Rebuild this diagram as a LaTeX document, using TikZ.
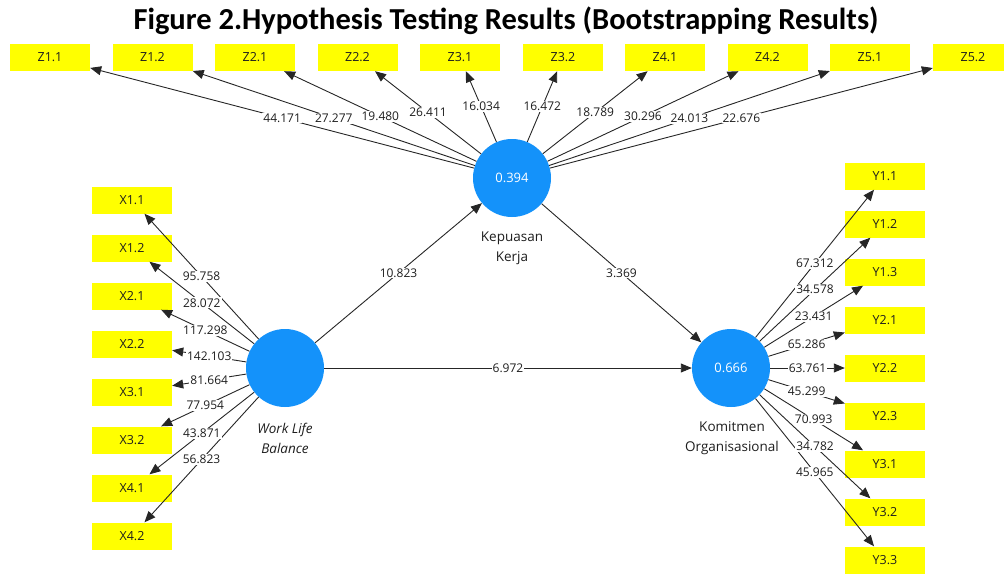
\documentclass[tikz,border=0pt]{standalone}
\usepackage{fontspec}
\setmainfont{Open Sans}
\newfontfamily\titlefont{Carlito}
\usetikzlibrary{arrows.meta}
\definecolor{lvblue}{RGB}{20,146,250}
\definecolor{indyellow}{RGB}{255,255,0}
\definecolor{inktext}{RGB}{30,30,30}
\tikzset{
  latent/.style={circle, fill=lvblue, minimum size=78pt, inner sep=0pt,
    text=white, font=\fontsize{13}{15}\selectfont},
  indicator/.style={rectangle, fill=indyellow, minimum width=80pt,
    minimum height=27pt, inner sep=0pt, text=inktext,
    font=\fontsize{12.5}{14}\selectfont},
  relpath/.style={draw=black!85, line width=0.9pt,
    -{Triangle[length=11pt,width=9pt]}},
  coef/.style={midway, fill=white, inner sep=1pt, text=inktext,
    font=\fontsize{12}{14}\selectfont},
  lvname/.style={align=center, text=inktext,
    font=\fontsize{13.5}{20}\selectfont}
}
\begin{document}
\begin{tikzpicture}[x=1pt,y=-1pt]
\useasboundingbox (0,0) rectangle (1004,574);

% title
\node[anchor=base, inner sep=0pt] (title) at (506,29)
  {\titlefont\bfseries\fontsize{30.5}{34}\selectfont Figure 2.Hypothesis Testing Results (Bootstrapping Results)};

% latent variables
\node[latent] (wlb) at (285,368) {};
\node[latent] (kep) at (512,178) {0.394};
\node[latent] (kom) at (731,368) {0.666};

\node[lvname] (wlbname) at (285,438) {\itshape Work Life\\\itshape Balance};
\node[lvname] (kepname) at (512,248) {Kepuasan\\Kerja};
\node[lvname] (komname) at (732,438) {Komitmen\\Organisasional};

% indicators of Kepuasan Kerja
\foreach \n/\x/\t in {1/50/Z1.1, 2/152.5/Z1.2, 3/255/Z2.1, 4/357.5/Z2.2,
  5/460/Z3.1, 6/563/Z3.2, 7/665/Z4.1, 8/767.5/Z4.2, 9/870/Z5.1, 10/973/Z5.2}
  \node[indicator] (z\n) at (\x,57.5) {\t};

% indicators of Work Life Balance
\foreach \n/\y/\t in {1/200/X1.1, 2/248/X1.2, 3/296/X2.1, 4/344/X2.2,
  5/392/X3.1, 6/440/X3.2, 7/488/X4.1, 8/536/X4.2}
  \node[indicator] (x\n) at (132,\y) {\t};

% indicators of Komitmen Organisasional
\foreach \n/\y/\t in {1/176/Y1.1, 2/224/Y1.2, 3/272/Y1.3, 4/320/Y2.1,
  5/368/Y2.2, 6/416/Y2.3, 7/464/Y3.1, 8/512/Y3.2, 9/560/Y3.3}
  \node[indicator] (y\n) at (885,\y) {\t};

% outer loadings
\foreach \n in {1,...,10} \draw[relpath] (kep) -- (z\n);
\foreach \n in {1,...,8} \draw[relpath] (wlb) -- (x\n);
\foreach \n in {1,...,9} \draw[relpath] (kom) -- (y\n);

% structural paths
\draw[relpath] (wlb) -- (kep);
\draw[relpath] (kep) -- (kom);
\draw[relpath] (wlb) -- (kom);

% t-statistics
\foreach \n/\v in {1/44.171, 2/27.277, 3/19.480, 4/26.411, 5/16.034,
  6/16.472, 7/18.789, 8/30.296, 9/24.013, 10/22.676}
  \path (kep) -- node[coef] {\v} (z\n);
\foreach \n/\v in {1/95.758, 2/28.072, 3/117.298, 4/142.103,
  5/81.664, 6/77.954, 7/43.871, 8/56.823}
  \path (wlb) -- node[coef] {\v} (x\n);
\foreach \n/\v in {1/67.312, 2/34.578, 3/23.431, 4/65.286, 5/63.761,
  6/45.299, 7/70.993, 8/34.782, 9/45.965}
  \path (kom) -- node[coef] {\v} (y\n);
\path (wlb) -- node[coef] {10.823} (kep);
\path (kep) -- node[coef] {3.369} (kom);
\path (wlb) -- node[coef] {6.972} (kom);
\end{tikzpicture}
\end{document}
